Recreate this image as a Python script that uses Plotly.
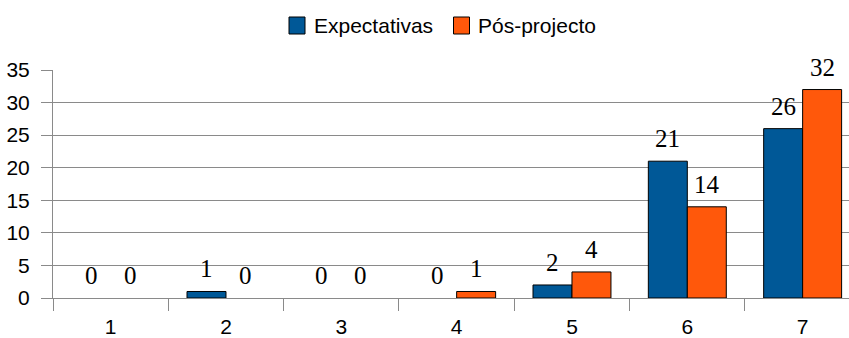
import plotly.graph_objects as go

categories = ["1", "2", "3", "4", "5", "6", "7"]
expectativas = [0, 1, 0, 0, 2, 21, 26]
pos_projecto = [0, 0, 0, 1, 4, 14, 32]

series = [
    ("Expectativas", expectativas, "#005897", -19.5),
    ("Pós-projecto", pos_projecto, "#ff580b", 19.5),
]

sans = "Liberation Sans, Arial, sans-serif"
serif = "Liberation Serif, Times New Roman, serif"
axis_col = "#8a8a8a"

# plot area geometry in pixels (used to place the key above the chart)
W, H = 849, 338
ML, MR, MT, MB = 53, 0, 70, 40
PW, PH = W - ML - MR, H - MT - MB


def px_x(p):
    return (p - ML) / PW


def px_y(p):
    return (H - MB - p) / PH


fig = go.Figure()
annotations = []
shapes = []
for name, vals, col, dx in series:
    fig.add_trace(go.Bar(
        x=categories, y=vals, name=name,
        marker=dict(color=col, line=dict(color="#000000",
                                         width=[1 if v > 0 else 0 for v in vals])),
    ))
    # value labels above each bar
    for i, v in enumerate(vals):
        annotations.append(dict(
            x=i, y=v, xref="x", yref="y", text=str(v), showarrow=False,
            xshift=dx, yanchor="bottom", yshift=7,
            font=dict(family=serif, size=25, color="#000000"),
        ))

# key: coloured square followed by the series name
key_y = px_y(25.5)
for (name, vals, col, dx), sq_x, txt_x in zip(series, [297, 461.5], [312, 476]):
    shapes.append(dict(
        type="rect", xref="paper", yref="paper",
        xsizemode="pixel", ysizemode="pixel",
        xanchor=px_x(sq_x), yanchor=key_y,
        x0=-8, x1=8, y0=-8.5, y1=8.5,
        fillcolor=col, line=dict(color="#000000", width=1),
    ))
    annotations.append(dict(
        x=px_x(txt_x), y=key_y, xref="paper", yref="paper", text=name,
        showarrow=False, xanchor="left", yanchor="middle",
        font=dict(family=sans, size=21, color="#000000"),
    ))

fig.update_layout(
    width=W, height=H,
    margin=dict(l=ML, r=MR, t=MT, b=MB, autoexpand=False),
    paper_bgcolor="white", plot_bgcolor="white",
    barmode="group", bargap=0.324, bargroupgap=0,
    font=dict(family=sans, size=21, color="#000000"),
    showlegend=False,
    annotations=annotations,
    shapes=shapes,
)
fig.update_xaxes(
    type="category", range=[-0.5, 6.402], tickson="boundaries",
    ticks="outside", ticklen=12, tickcolor=axis_col, tickwidth=1,
    showline=True, linecolor=axis_col, linewidth=1, showgrid=False,
    ticklabelstandoff=10, tickfont=dict(family=sans, size=21), automargin=False,
)
fig.update_yaxes(
    range=[0, 35], dtick=5, ticks="outside", ticklen=11, tickcolor=axis_col,
    showline=True, linecolor=axis_col, linewidth=1,
    showgrid=True, gridcolor=axis_col, gridwidth=1, zeroline=False,
    tickfont=dict(family=sans, size=21), ticklabelstandoff=7, automargin=False,
)
fig.write_html("out.html")
